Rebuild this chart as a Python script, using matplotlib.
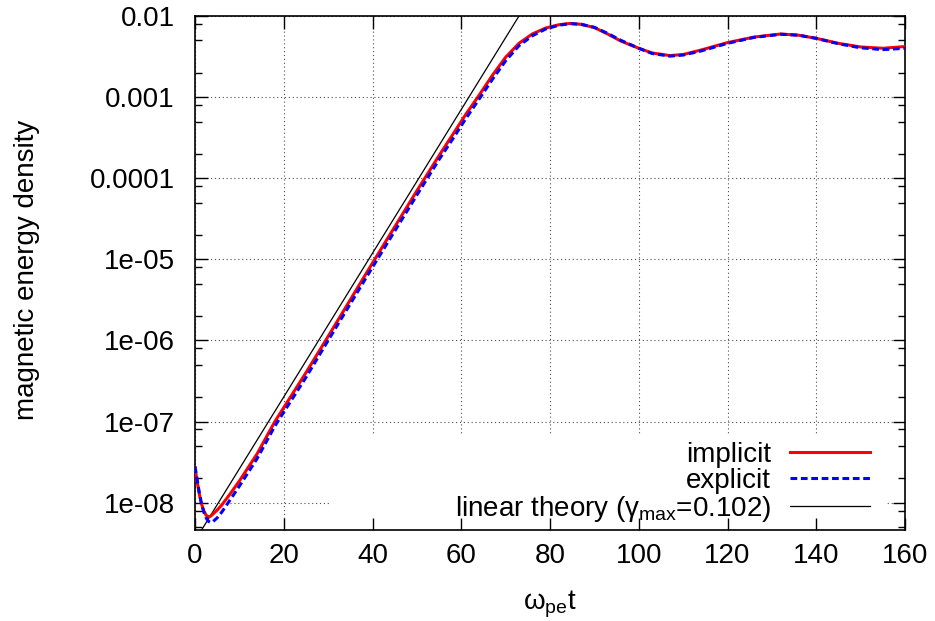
import numpy as np
import matplotlib
matplotlib.use("Agg")
import matplotlib.pyplot as plt
from matplotlib.ticker import FixedLocator, FixedFormatter, NullFormatter
from matplotlib.patches import Rectangle

plt.rcParams['font.family'] = ['Liberation Sans', 'DejaVu Sans']
plt.rcParams['mathtext.fontset'] = 'custom'
plt.rcParams['mathtext.rm'] = 'Liberation Sans'
plt.rcParams['mathtext.it'] = 'Liberation Sans'
plt.rcParams['mathtext.bf'] = 'Liberation Sans:bold'

# ---------------- data ----------------
t = [0, 0.5, 1, 1.5, 2, 2.5, 3, 3.5, 4, 5, 6, 8, 10, 14, 18, 25, 30, 40, 50,
     55, 58, 61, 64, 67, 70, 73, 76, 79, 82, 84.5, 87, 90, 93, 96, 100, 103,
     107, 110, 114, 120, 126, 132, 136, 140, 145, 150, 155, 160]

implicit = [2.7e-8, 1.8e-8, 1.25e-8, 9.5e-9, 7.9e-9, 7.0e-9, 6.7e-9, 6.8e-9,
            7.2e-9, 8.1e-9, 9.3e-9, 1.3e-8, 1.85e-8, 4.0e-8, 1.0e-7, 4.0e-7,
            1.12e-6, 9.0e-6, 7.0e-5, 1.9e-4, 3.4e-4, 6.1e-4, 1.05e-3, 1.85e-3,
            3.1e-3, 4.6e-3, 6.0e-3, 7.1e-3, 7.8e-3, 8.1e-3, 7.9e-3, 7.2e-3,
            6.0e-3, 4.9e-3, 4.0e-3, 3.5e-3, 3.25e-3, 3.35e-3, 3.8e-3, 4.7e-3,
            5.5e-3, 6.0e-3, 5.8e-3, 5.3e-3, 4.6e-3, 4.15e-3, 4.0e-3, 4.2e-3]

explicit = [2.8e-8, 1.9e-8, 1.3e-8, 9.5e-9, 7.6e-9, 6.5e-9, 5.9e-9, 5.7e-9,
            5.8e-9, 6.5e-9, 7.6e-9, 1.1e-8, 1.6e-8, 3.5e-8, 8.8e-8, 3.5e-7,
            1.0e-6, 8.0e-6, 6.2e-5, 1.7e-4, 3.0e-4, 5.4e-4, 9.4e-4, 1.65e-3,
            2.8e-3, 4.3e-3, 5.7e-3, 6.9e-3, 7.7e-3, 8.05e-3, 7.9e-3, 7.25e-3,
            6.1e-3, 5.0e-3, 4.0e-3, 3.45e-3, 3.2e-3, 3.3e-3, 3.7e-3, 4.6e-3,
            5.45e-3, 5.95e-3, 5.8e-3, 5.3e-3, 4.55e-3, 4.05e-3, 3.85e-3, 4.0e-3]

gamma_max = 0.102
lin_amp = 3.4e-9
lin_t = [0, 80]

xticks = [0, 20, 40, 60, 80, 100, 120, 140, 160]
yticks = [1e-8, 1e-7, 1e-6, 1e-5, 1e-4, 1e-3, 1e-2]
ytick_labels = ['1e-08', '1e-07', '1e-06', '1e-05', '0.0001', '0.001', '0.01']
yminor = [m * 10.0 ** k for k in range(-9, -1) for m in (2, 5, 8)]

# ---------------- figure ----------------
W, H = 935, 621
fig = plt.figure(figsize=(W / 100, H / 100), dpi=100)
L, R, T, B = 195, 905, 16, 530
ax = fig.add_axes([L / W, 1 - B / H, (R - L) / W, (B - T) / H])

ax.set_yscale('log')
ax.set_xlim(0, 160)
ax.set_ylim(4.6e-9, 1e-2)

# grid (dotted), drawn below a white legend box
for xv in xticks:
    ax.axvline(xv, color='0.3', lw=0.8, ls=(0, (1, 2.5)), zorder=0.5)
for yv in yticks:
    ax.axhline(yv, color='0.3', lw=0.8, ls=(0, (1, 2.5)), zorder=0.5)
ax.add_patch(Rectangle((0.19, 0.0), 0.782, 0.185, transform=ax.transAxes,
                       facecolor='white', edgecolor='none', zorder=0.8))

lin_t_arr = np.array(lin_t, dtype=float)
lin_E = lin_amp * np.exp(2 * gamma_max * lin_t_arr)

ax.plot(t, implicit, color='#ff0000', lw=2.2, label='implicit', zorder=3)
ax.plot(t, explicit, color='#0000ff', lw=2.2, ls=(0, (2.2, 1.2)),
        label='explicit', zorder=4)
ax.plot(lin_t_arr, lin_E, color='black', lw=0.9,
        label=r'linear theory ($\gamma_{\mathrm{max}}$=0.102)', zorder=2)

ax.xaxis.set_major_locator(FixedLocator(xticks))
ax.yaxis.set_major_locator(FixedLocator(yticks))
ax.yaxis.set_major_formatter(FixedFormatter(ytick_labels))
ax.yaxis.set_minor_locator(FixedLocator(yminor))
ax.yaxis.set_minor_formatter(NullFormatter())
ax.xaxis.set_minor_locator(FixedLocator([]))

ax.tick_params(which='both', direction='in', top=True, right=True,
               labelsize=20, width=1.0, color='black')
ax.tick_params(which='major', length=9)
ax.tick_params(which='minor', length=5)
ax.tick_params(axis='y', pad=14.5)
ax.tick_params(axis='x', pad=9.4)
for sp in ax.spines.values():
    sp.set_linewidth(1.2)

fig.text(27 / W, 1 - 270 / H, 'magnetic energy density', rotation=90,
         ha='center', va='center', fontsize=20)
xl = ax.set_xlabel(r'$\omega_{\mathrm{pe}}\mathrm{t}$', fontsize=20)
ax.xaxis.set_label_coords(0.5, (B - 610) / (B - T))
xl.set_va('baseline')

leg = ax.legend(loc='lower right', bbox_to_anchor=((870 - L) / (R - L), (B - 524) / (B - T)),
                frameon=False, fontsize=20, markerfirst=False, borderaxespad=0,
                borderpad=0, handlelength=2.88, handletextpad=0.68,
                labelspacing=0.0)
leg.set_zorder(5)

fig.savefig('out.png', dpi=100)
